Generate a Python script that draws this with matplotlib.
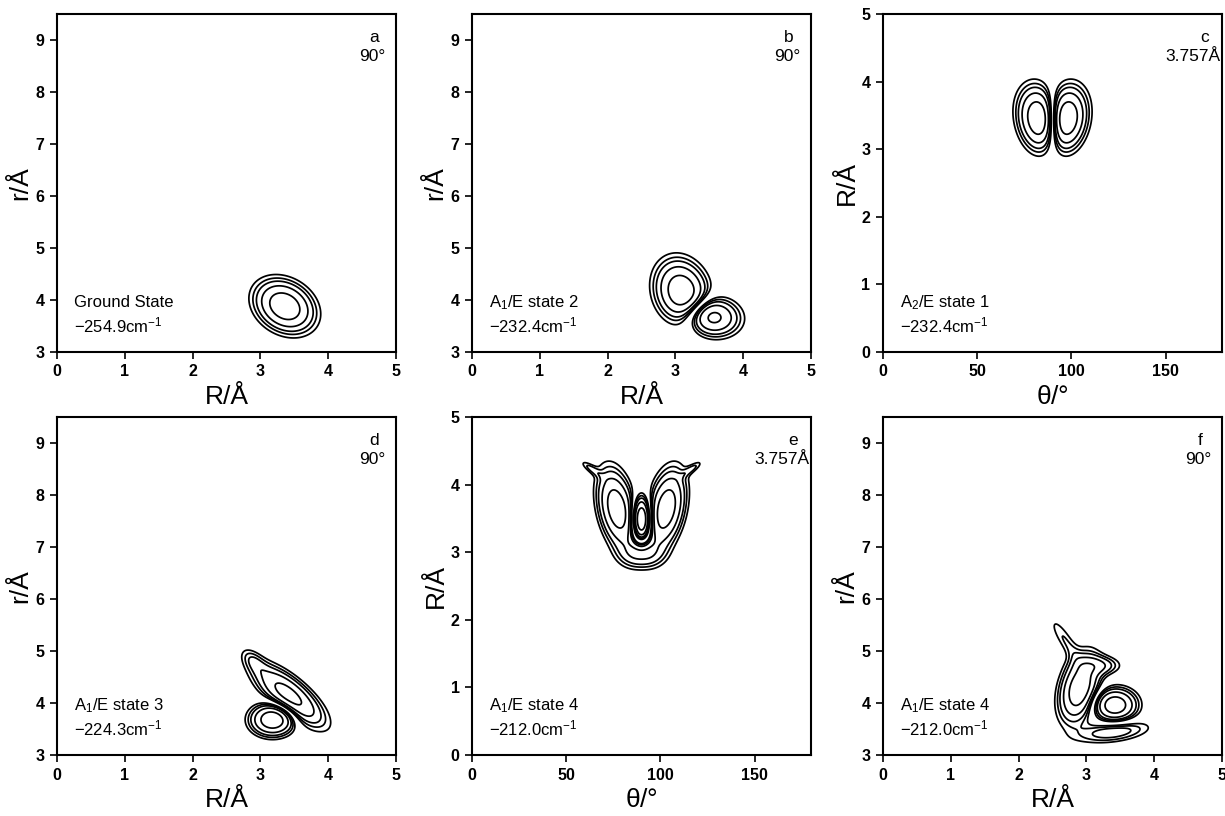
import numpy as np
import matplotlib
matplotlib.use("Agg")
import matplotlib.pyplot as plt

plt.rcParams['font.family'] = ['Liberation Sans', 'DejaVu Sans']
plt.rcParams['mathtext.default'] = 'regular'

# Wavefunction lobes: (centre_x, centre_y, sigma_u, sigma_v, angle_deg, amplitude)
# For the theta panels, distances along theta are measured in units of 36 degrees.
LOBES_A = [(3.36, 3.88, 0.32, 0.24, -60, 1.0)]
LOBES_B = [(3.10, 4.14, 0.38, 0.23, 100, 1.0),
           (3.52, 3.68, 0.26, 0.23, -20, -0.85)]
LOBES_C = [(84.0, 3.42, 0.30, 0.19, -76, 1.0),
           (96.0, 3.42, 0.30, 0.19, 76, -1.0)]
LOBES_D = [(3.18, 3.68, 0.20, 0.19, 0, -1.0),
           (3.42, 4.15, 0.45, 0.17, -50, 0.85),
           (2.90, 4.80, 0.18, 0.09, -60, 0.2)]
LOBES_E = [(90.0, 3.48, 0.09, 0.21, 0, -1.2),
           (77.0, 3.64, 0.16, 0.36, 12, 0.95),
           (103.0, 3.64, 0.16, 0.36, -12, 0.95),
           (90.0, 2.98, 0.20, 0.14, 0, 0.45),
           (63.0, 4.24, 0.13, 0.04, -35, 0.2),
           (117.0, 4.24, 0.13, 0.04, 35, 0.2)]
LOBES_F = [(2.90, 4.28, 0.40, 0.17, 80, 1.0),
           (3.42, 3.96, 0.20, 0.20, 0, -0.95),
           (3.20, 4.72, 0.20, 0.12, 0, 0.35),
           (3.40, 3.45, 0.35, 0.13, 10, 0.4),
           (2.68, 5.22, 0.35, 0.08, -65, 0.2)]

CONTOUR_LEVELS = [0.13, 0.20, 0.28, 0.43, 0.70]

PANEL_LETTERS = ['a', 'b', 'c', 'd', 'e', 'f']
PANEL_CUTS = ['90°', '90°', '3.757Å', '90°', '3.757Å', '90°']
STATE_NAMES = ['Ground State', 'A$_{1}$/E state 2', 'A$_{2}$/E state 1',
               'A$_{1}$/E state 3', 'A$_{1}$/E state 4', 'A$_{1}$/E state 4']
ENERGIES = [-254.9, -232.4, -232.4, -224.3, -212.0, -212.0]
PANEL_KIND = ['Rr', 'Rr', 'tR', 'Rr', 'tR', 'Rr']
PANEL_LOBES = [LOBES_A, LOBES_B, LOBES_C, LOBES_D, LOBES_E, LOBES_F]

RR_XTICKS = [0, 1, 2, 3, 4, 5]
RR_YTICKS = [3, 4, 5, 6, 7, 8, 9]
TR_XTICKS = [0, 50, 100, 150]
TR_YTICKS = [0, 1, 2, 3, 4, 5]


def density(lobes, X, Y, xunit=1.0):
    psi = np.zeros_like(X)
    for cx, cy, su, sv, ang, amp in lobes:
        a = np.deg2rad(ang)
        dx, dy = (X - cx) / xunit, Y - cy
        u = dx * np.cos(a) + dy * np.sin(a)
        v = -dx * np.sin(a) + dy * np.cos(a)
        psi += amp * np.exp(-0.5 * ((u / su) ** 2 + (v / sv) ** 2))
    mag = np.abs(psi)
    return mag / mag.max()


fig = plt.figure(figsize=(12.25, 8.16), dpi=100)
col_left = [57 / 1225, 472 / 1225, 883 / 1225]
row_bottom = [1 - 352 / 816, 1 - 755 / 816]
w, h = 339 / 1225, 338 / 816

for i in range(6):
    r, c = divmod(i, 3)
    ax = fig.add_axes([col_left[c], row_bottom[r], w, h])
    if PANEL_KIND[i] == 'Rr':
        xlim, ylim = (0, 5), (3, 9.5)
        xt, yt = RR_XTICKS, RR_YTICKS
        xlabel, ylabel = 'R/Å', 'r/Å'
        xunit = 1.0
    else:
        xlim, ylim = (0, 180), (0, 5)
        xt, yt = TR_XTICKS, TR_YTICKS
        xlabel, ylabel = r'$\theta$/°', 'R/Å'
        xunit = 36.0
    x = np.linspace(xlim[0], xlim[1], 600)
    y = np.linspace(ylim[0], ylim[1], 600)
    X, Y = np.meshgrid(x, y)
    Z = density(PANEL_LOBES[i], X, Y, xunit)
    ax.contour(X, Y, Z, levels=CONTOUR_LEVELS, colors='black', linewidths=1.25)
    ax.set_xlim(*xlim)
    ax.set_ylim(*ylim)
    ax.set_xticks(xt)
    ax.set_yticks(yt)
    ax.tick_params(direction='out', length=5, width=1.2, labelsize=11.5, pad=4)
    for lab in ax.get_xticklabels() + ax.get_yticklabels():
        lab.set_fontweight('bold')
    for sp in ax.spines.values():
        sp.set_linewidth(1.5)
    ax.set_xlabel(xlabel, fontsize=19, labelpad=4)
    ax.set_ylabel(ylabel, fontsize=19, labelpad=2)

    # panel letter and cut value
    if PANEL_KIND[i] == 'Rr':
        ax.text(0.935, 0.93, PANEL_LETTERS[i], transform=ax.transAxes,
                ha='center', va='center', fontsize=12.5)
        ax.text(0.97, 0.875, PANEL_CUTS[i], transform=ax.transAxes,
                ha='right', va='center', fontsize=12.5)
    else:
        ax.text(0.948, 0.93, PANEL_LETTERS[i], transform=ax.transAxes,
                ha='center', va='center', fontsize=12.5)
        ax.text(0.995, 0.875, PANEL_CUTS[i], transform=ax.transAxes,
                ha='right', va='center', fontsize=12.5)

    ax.text(0.05, 0.145, STATE_NAMES[i], transform=ax.transAxes,
            ha='left', va='center', fontsize=12)
    ax.text(0.05, 0.08, f'−{abs(ENERGIES[i]):.1f}cm$^{{-1}}$',
            transform=ax.transAxes, ha='left', va='center', fontsize=12)

fig.savefig('out.png', dpi=100)
